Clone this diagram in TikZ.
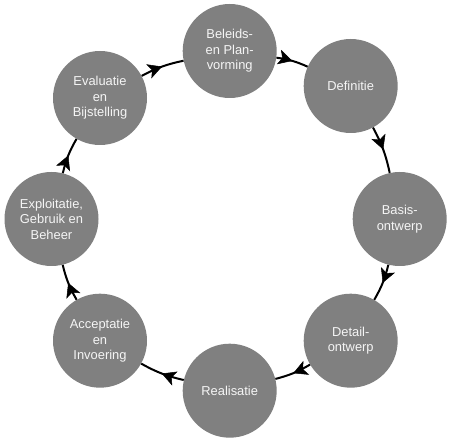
\documentclass[tikz,border=0pt]{standalone}
\usepackage{fontspec}
\setmainfont{Liberation Sans}
\usetikzlibrary{arrows.meta,decorations.markings}
\definecolor{stepfill}{RGB}{128,128,128}
\definecolor{steptext}{RGB}{245,245,245}
\tikzset{
  stepcircle/.style={circle, fill=stepfill, minimum size=94pt, inner sep=0pt,
    text=steptext, align=center, font=\fontsize{12.9}{15.5}\selectfont},
  flowtip/.tip={Stealth[length=14pt,width=15pt,inset=3.5pt]},
  flow/.style={line width=2pt, draw=black, postaction={decorate},
    decoration={markings, mark=at position 0.5 with {\arrow[line width=0.5pt]{flowtip}}}}
}
\begin{document}
\begin{tikzpicture}[x=1pt,y=1pt]
\useasboundingbox (0,0) rectangle (450,441);
\node[stepcircle] (bel) at (229.7,390) {Beleids-\\en Plan-\\vorming};
\node[stepcircle] (def) at (350.7,355) {Definitie};
\node[stepcircle] (bas) at (399.7,222) {Basis-\\ontwerp};
\node[stepcircle] (det) at (350.7,100.3) {Detail-\\ontwerp};
\node[stepcircle] (rea) at (229.7,50.3) {Realisatie};
\node[stepcircle] (acc) at (100,100.3) {Acceptatie\\en\\Invoering};
\node[stepcircle] (exp) at (51.5,222) {Exploitatie,\\Gebruik en\\Beheer};
\node[stepcircle] (eva) at (100,343) {Evaluatie\\en\\Bijstelling};
\draw[flow] (bel) to[bend left=8] (def);
\draw[flow] (def) to[bend left=8] (bas);
\draw[flow] (bas) to[bend left=8] (det);
\draw[flow] (det) to[bend left=8] (rea);
\draw[flow] (rea) to[bend left=8] (acc);
\draw[flow] (acc) to[bend left=8] (exp);
\draw[flow] (exp) to[bend left=8] (eva);
\draw[flow] (eva) to[bend left=8] (bel);
\end{tikzpicture}
\end{document}
